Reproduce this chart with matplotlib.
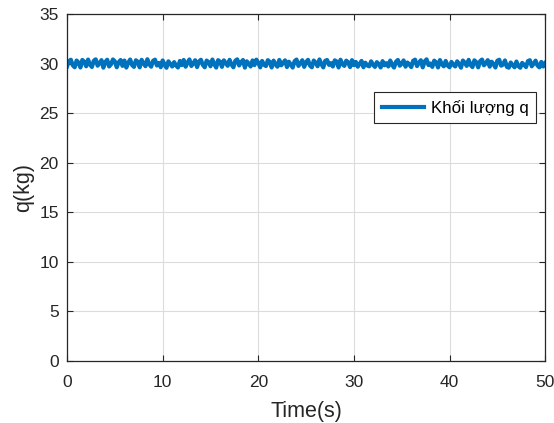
import numpy as np
import matplotlib
matplotlib.use("Agg")
import matplotlib.pyplot as plt

plt.rcParams["font.family"] = ["Liberation Sans", "DejaVu Sans"]

T_END = 50.0
Q = [
    29.70, 30.25, 30.38, 29.82, 29.62, 30.30, 30.10, 29.60, 30.36, 30.18,
    29.72, 30.40, 29.90, 29.65, 30.28, 30.42, 29.78, 30.04, 30.34, 29.58,
    30.15, 30.38, 29.70, 29.92, 30.41, 30.22, 29.62, 30.12, 30.35, 29.76,
    30.30, 29.59, 30.08, 30.40, 29.85, 29.66, 30.33, 30.17, 29.61, 30.37,
    30.02, 29.73, 30.43, 29.92, 29.68, 30.27, 30.39, 29.80, 30.06, 29.63,
    30.31, 29.88, 29.57, 30.22, 29.96, 29.70, 30.14, 29.80, 29.60, 30.26,
    29.84, 30.36, 29.68, 30.10, 30.41, 29.75, 30.00, 30.33, 29.64, 30.20,
    30.38, 29.86, 29.62, 30.30, 30.14, 29.72, 30.40, 29.94, 29.59, 30.34,
    30.18, 29.66, 30.32, 30.04, 29.77, 30.37, 29.90, 29.62, 30.28, 30.42,
    29.80, 30.12, 30.35, 29.58, 30.22, 29.98, 29.70, 30.31, 29.84, 30.39,
    30.08, 29.61, 30.26, 29.88, 29.74, 30.34, 30.16, 29.60, 30.29, 29.92,
    29.68, 30.36, 29.82, 30.06, 30.32, 29.64, 30.18, 29.90, 29.59, 30.24,
    30.40, 29.76, 30.02, 30.33, 29.66, 30.14, 30.37, 29.80, 29.62, 30.30,
    30.10, 29.72, 30.41, 29.94, 29.61, 30.27, 30.35, 29.86, 30.04, 29.70,
    30.32, 30.20, 29.60, 30.38, 29.92, 29.76, 30.29, 30.12, 29.64, 30.34,
    29.84, 30.16, 29.68, 29.96, 30.26, 29.62, 30.08, 29.80, 29.72, 30.22,
    29.88, 29.66, 30.14, 29.94, 29.60, 30.24, 29.82, 30.04, 29.70, 30.30,
    29.86, 29.59, 30.18, 30.36, 29.78, 29.98, 30.31, 29.68, 30.10, 29.90,
    29.64, 30.28, 30.39, 29.74, 30.06, 30.33, 29.61, 30.20, 30.42, 29.84,
    30.00, 29.66, 30.29, 30.12, 29.60, 30.35, 29.92, 29.72, 30.26, 29.80,
    29.62, 30.16, 29.88, 29.70, 30.22, 29.96, 29.58, 30.30, 30.08, 29.76,
    30.37, 29.86, 29.64, 30.32, 30.14, 29.61, 30.24, 30.40, 29.82, 30.02,
    30.34, 29.68, 30.18, 29.94, 29.60, 30.28, 30.38, 29.78, 29.90, 30.31,
    29.66, 29.58, 30.10, 29.84, 29.62, 30.20, 29.74, 29.57, 30.06, 29.88,
    29.64, 30.24, 30.33, 29.72, 29.98, 30.29, 29.80, 29.61, 30.16, 29.70,
    30.04,
]
Y_TICKS = [0, 5, 10, 15, 20, 25, 30, 35]
X_TICKS = [0, 10, 20, 30, 40, 50]

t = np.linspace(0, T_END, len(Q))

fig = plt.figure(figsize=(5.54, 4.23), dpi=100)
ax = fig.add_axes([0.121, 0.147, 0.863, 0.820])
ax.plot(t, Q, color="#0072BD", lw=3.0, label="Khối lượng q")

ax.set_xlim(0, 50)
ax.set_ylim(0, 35)
ax.set_xticks(X_TICKS)
ax.set_yticks(Y_TICKS)
ax.grid(True, color="#dcdcdc", lw=0.8)
ax.set_axisbelow(True)
ax.tick_params(direction="in", top=True, right=True, length=4, width=0.8,
               labelsize=12.5, colors="#262626")
ax.tick_params(axis="x", pad=10)
ax.tick_params(axis="y", pad=6)
for s in ax.spines.values():
    s.set_color("#262626")
    s.set_linewidth(0.9)
ax.set_xlabel("Time(s)", fontsize=15.5, color="#262626", labelpad=8)
ax.set_ylabel("q(kg)", fontsize=15.5, color="#262626", labelpad=4)

leg = ax.legend(loc="upper right", bbox_to_anchor=(0.981, 0.775), fontsize=12.2,
                frameon=True, fancybox=False, handlelength=2.5, handletextpad=0.4,
                borderpad=0.45, borderaxespad=0)
leg.get_frame().set_edgecolor("#262626")
leg.get_frame().set_linewidth(0.8)
leg.get_frame().set_alpha(1)

fig.savefig("out.png", dpi=100)
